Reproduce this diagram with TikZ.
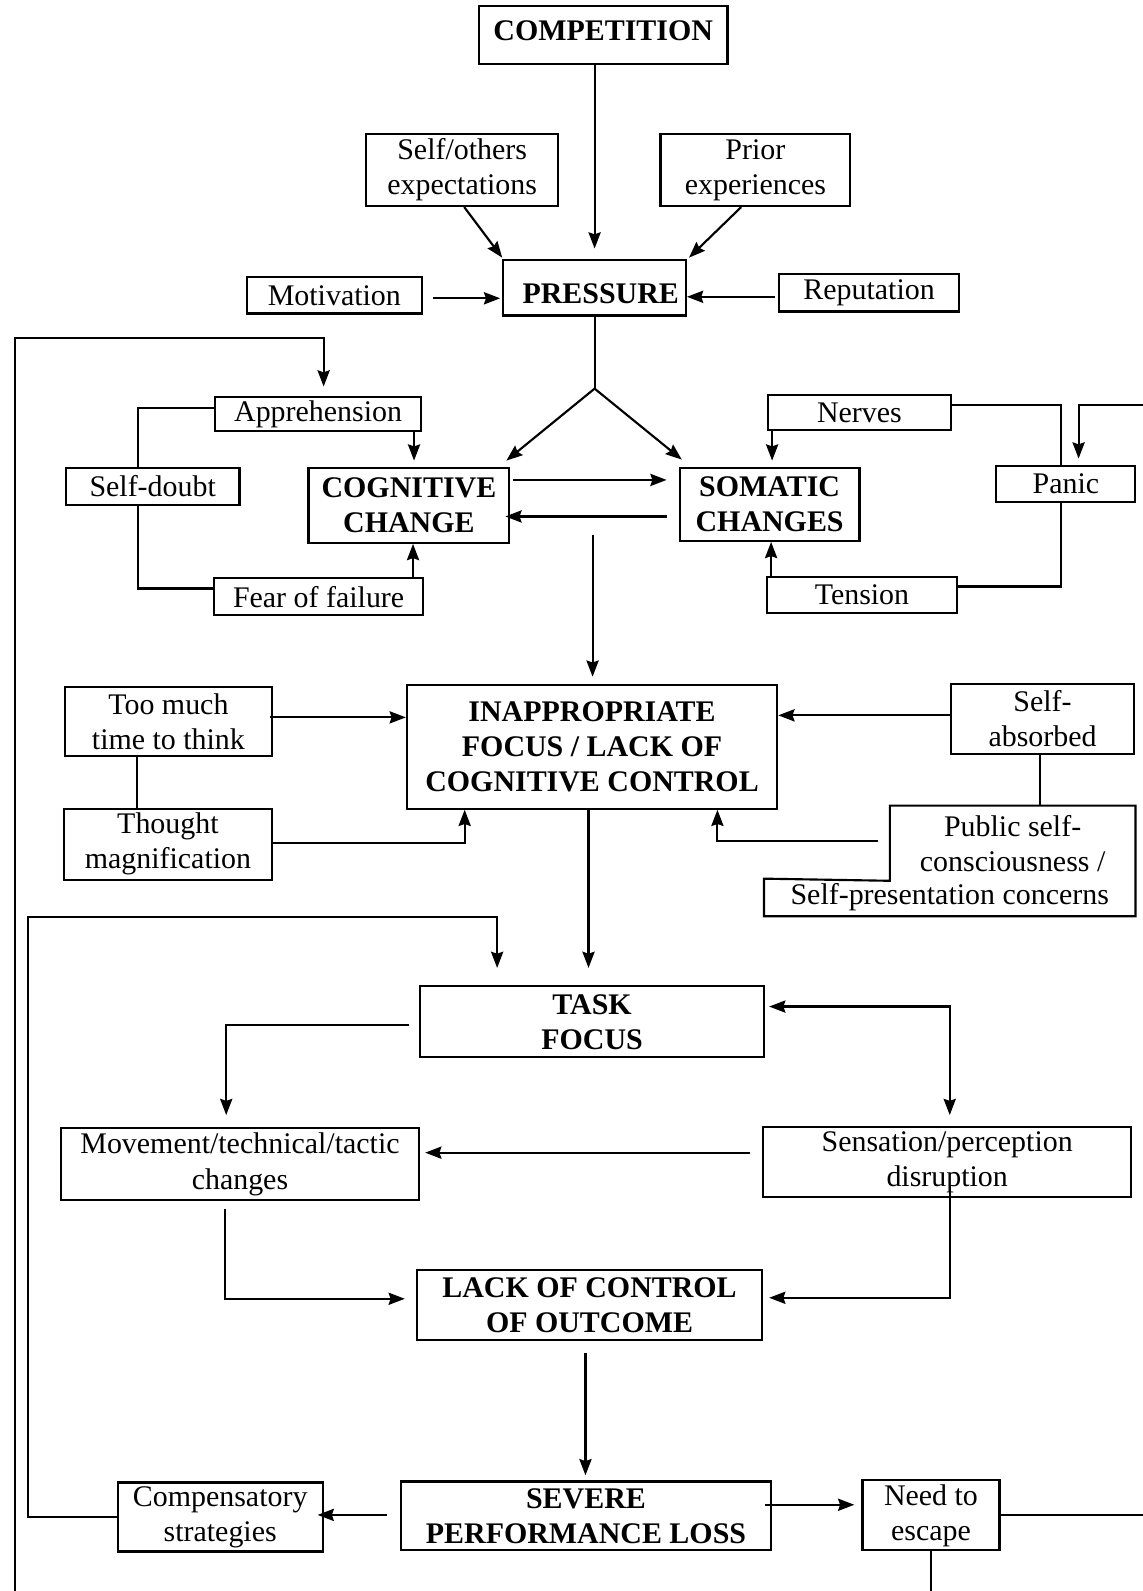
\documentclass[tikz,border=0pt]{standalone}
\usepackage{fontspec}
\setmainfont{Liberation Serif}
\usetikzlibrary{arrows.meta,calc}
\begin{document}
\begin{tikzpicture}[x=1pt,y=-1pt,
  box/.style={draw, line width=2.1pt, inner sep=2pt, align=center, font=\fontsize{29.5}{34.5}\selectfont},
  bbox/.style={box, font=\fontsize{29.5}{34.5}\selectfont\bfseries},
  ln/.style={line width=2.1pt},
  arr/.style={ln, -{Stealth[length=16pt,width=12pt,inset=2pt]}},
  arrtwo/.style={ln, {Stealth[length=16pt,width=12pt,inset=2pt]}-{Stealth[length=16pt,width=12pt,inset=2pt]}},
]
\path[fill=white] (0,0) rectangle (1126,1568);
\useasboundingbox (0,0) rectangle (1126,1568);

% nodes
\node[bbox, minimum width=245pt, minimum height=57pt] (comp) at (594.5,34.5) {\raisebox{4pt}[\height][\depth]{COMPETITION}};
\node[box, minimum width=189pt, minimum height=71pt] (selfo) at (455.5,167.5) {Self/others\\expectations};
\node[box, minimum width=187pt, minimum height=71pt] (prior) at (744.5,167.5) {Prior\\experiences};
\node[box, minimum width=173pt, minimum height=36pt] (motiv) at (329.5,291) {Motivation};
\node[bbox, minimum width=180pt, minimum height=55pt] (press) at (586,283.5) {\hspace*{12pt}\raisebox{-6pt}[\height][\depth]{PRESSURE}};
\node[box, minimum width=177pt, minimum height=37pt] (reput) at (856.5,288.5) {Reputation};
\node[bbox, minimum width=198pt, minimum height=74pt] (cog) at (403,498) {COGNITIVE\\CHANGE};
\node[bbox, minimum width=177pt, minimum height=72pt] (som) at (758.5,497) {SOMATIC\\CHANGES};
\node[box, minimum width=203pt, minimum height=34pt] (appr) at (313.5,408) {Apprehension};
\node[box, minimum width=171pt, minimum height=37pt] (sdoubt) at (150.5,479.5) {Self-doubt};
\node[box, minimum width=206pt, minimum height=36pt] (fear) at (314,588) {Fear of failure};
\node[box, minimum width=180pt, minimum height=35pt] (nerves) at (847,406.5) {Nerves};
\node[box, minimum width=137pt, minimum height=36pt] (panic) at (1050.5,477) {Panic};
\node[box, minimum width=187pt, minimum height=35pt] (tension) at (849.5,586.5) {Tension};
\node[bbox, minimum width=365pt, minimum height=122pt] (inapp) at (583.5,736) {INAPPROPRIATE\\FOCUS / LACK OF\\COGNITIVE CONTROL};
\node[box, minimum width=204pt, minimum height=68pt] (toomuch) at (166,711) {Too much\\time to think};
\node[box, minimum width=205pt, minimum height=70pt] (thought) at (165.5,832) {Thought\\magnification};
\node[box, minimum width=181pt, minimum height=69pt] (selfabs) at (1027.5,708.5) {Self-\\absorbed};
\node[box, draw=none, minimum width=240pt, minimum height=72pt] (public) at (998,831) {Public self-\\consciousness /};
\node[box, draw=none, minimum width=364pt, minimum height=35pt] (publicb) at (936,884.5) {Self-presentation concerns};
\draw[ln] (public.north west) -- (public.north east) -- (publicb.south east) -- (publicb.south west) -- (publicb.north west) -- (public.south west) -- cycle;
\node[bbox, minimum width=339pt, minimum height=70pt] (task) at (583.5,1007) {TASK\\FOCUS};
\node[box, minimum width=353pt, minimum height=71pt] (move) at (236.5,1147.5) {Movement/technical/tactic\\changes};
\node[box, minimum width=363pt, minimum height=69pt] (sens) at (933.5,1145.5) {Sensation/perception\\disruption};
\node[bbox, minimum width=340pt, minimum height=69pt] (lack) at (581,1286.5) {LACK OF CONTROL\\OF OUTCOME};
\node[bbox, minimum width=365pt, minimum height=68pt] (severe) at (577.5,1494) {SEVERE\\PERFORMANCE LOSS};
\node[box, minimum width=202pt, minimum height=68pt] (compst) at (217,1495) {Compensatory\\strategies};
\node[box, minimum width=135pt, minimum height=69pt] (need) at (917.5,1493.5) {Need to\\escape};

% helper coordinates
\coordinate (split) at (586,383);
\coordinate (midtop) at (584,527);
\coordinate (outB) at (15,1568);
\coordinate (outT) at (15,333);
\coordinate (loopL) at (28,904);
\coordinate (rin) at (1126,399);
\coordinate (rout) at (1126,1493);

% top
\draw[arr] (comp.south -| press.north) -- ($(press.north)+(0,-10)$);
\draw[arr] ($(selfo.south)+(2,0)$) -- ($(press.north west)+(0,-1)$);
\draw[arr] ($(prior.south)+(-14,0)$) -- ($(press.north east)+(2,-1)$);
\draw[arr] ($(motiv.east)+(10,3)$) -- ($(press.west |- motiv.east)+(-2,3)$);
\draw[arr] ($(reput.west)+(-3,4)$) -- ($(press.east |- reput.west)+(0,4)$);
\draw[ln] (press.south) -- (split);
\draw[arr] (split) -- ($(cog.north east)+(-4,-6)$);
\draw[arr] (split) -- ($(som.north west)+(3,-7)$);

% outer loop
\draw[arr, shorten >=9pt] (outB) -- (outT) -| ($(appr.north west)+(108,0)$);

% cognitive cluster
\coordinate (a1) at ($(appr.south east)+(-8,0)$);
\draw[arr, shorten >=6pt] (a1) -- (a1 |- cog.north);
\draw[ln] ($(appr.west)+(0,-6)$) -| ($(sdoubt.north)+(-14.5,0)$);
\draw[ln] ($(sdoubt.south)+(-14.5,0)$) |- ($(fear.west)+(0,-8)$);
\coordinate (f1) at ($(fear.north east)+(-11,0)$);
\draw[arr] (f1) -- (f1 |- cog.south);
\draw[arr] ($(cog.east)+(3,-25)$) -- ($(som.west)+(-12,-24)$);
\draw[arr] ($(som.west)+(-12,12)$) -- ($(cog.east)+(-5,11)$);

% somatic cluster
\coordinate (n1) at ($(nerves.south west)+(5,0)$);
\draw[arr, shorten >=6pt] (n1) -- (n1 |- som.north);
\draw[ln] ($(nerves.east)+(0,-7.5)$) -| ($(panic.north)+(-4.5,0)$);
\draw[ln] ($(panic.south)+(-4.5,0)$) |- ($(tension.east)+(0,-8.5)$);
\draw[arr, shorten >=6pt] (rin) -| ($(panic.north)+(12.5,0)$);
\coordinate (t1) at ($(tension.north west)+(5,0)$);
\draw[arr] (t1) -- (t1 |- som.south);
\draw[arr, shorten >=7pt] (midtop) -- (midtop |- inapp.north);

% inappropriate focus cluster
\draw[arr] ($(toomuch.east)+(-3,-4)$) -- ($(inapp.west |- toomuch.east)+(0,-4)$);
\coordinate (tm) at ($(toomuch.south)+(-31,0)$);
\draw[ln] (tm) -- (tm |- thought.north);
\draw[arr] ($(thought.east)+(0,-1)$) -| ($(inapp.south west)+(58,0)$);
\draw[arr] ($(selfabs.west)+(0,-3.5)$) -- ($(inapp.east |- selfabs.west)+(0,-3.5)$);
\coordinate (sa) at ($(selfabs.south)+(-2.5,0)$);
\draw[ln] (sa) -- (sa |- public.north);
\draw[arr] ($(public.west)+(-12,-2)$) -| ($(inapp.south east)+(-60,0)$);
\coordinate (ia) at ($(inapp.south)+(-3.5,0)$);
\draw[arr, shorten >=17pt] (ia) -- (ia |- task.north);
\draw[arr, shorten >=17pt] (compst.west) -| (loopL) -| ($(task.north west)+(77,0)$);

% task cluster
\draw[arr, shorten >=12pt] ($(task.west)+(-10,3)$) -| ($(move.north west)+(164,0)$);
\draw[arrtwo, shorten >=11pt] ($(task.east)+(4,-15)$) -| ($(sens.north)+(2.5,0)$);
\coordinate (s1) at ($(sens.west)+(-12,-9.5)$);
\draw[arr, shorten >=5pt] (s1) -- (move.east |- s1);
\draw[arr] ($(move.south)+(-14.5,7)$) |- ($(lack.west)+(-11,-6.5)$);
\draw[arr] ($(sens.south)+(2.5,-12)$) |- ($(lack.east)+(6,-7.5)$);
\coordinate (l1) at ($(lack.south)+(-4,11)$);
\draw[arr, shorten >=5pt] (l1) -- (l1 |- severe.north);

% bottom
\coordinate (sv1) at ($(severe.west)+(-13,-1)$);
\draw[arr, shorten >=-6pt] (sv1) -- (compst.east |- sv1);
\coordinate (sv2) at ($(severe.east)+(-7,-11)$);
\draw[arr, shorten >=7pt] (sv2) -- (need.west |- sv2);
\draw[ln] (need.east) -- (need.east -| rout);
\draw[ln] (need.south) -- (need.south |- outB);
\end{tikzpicture}
\end{document}
